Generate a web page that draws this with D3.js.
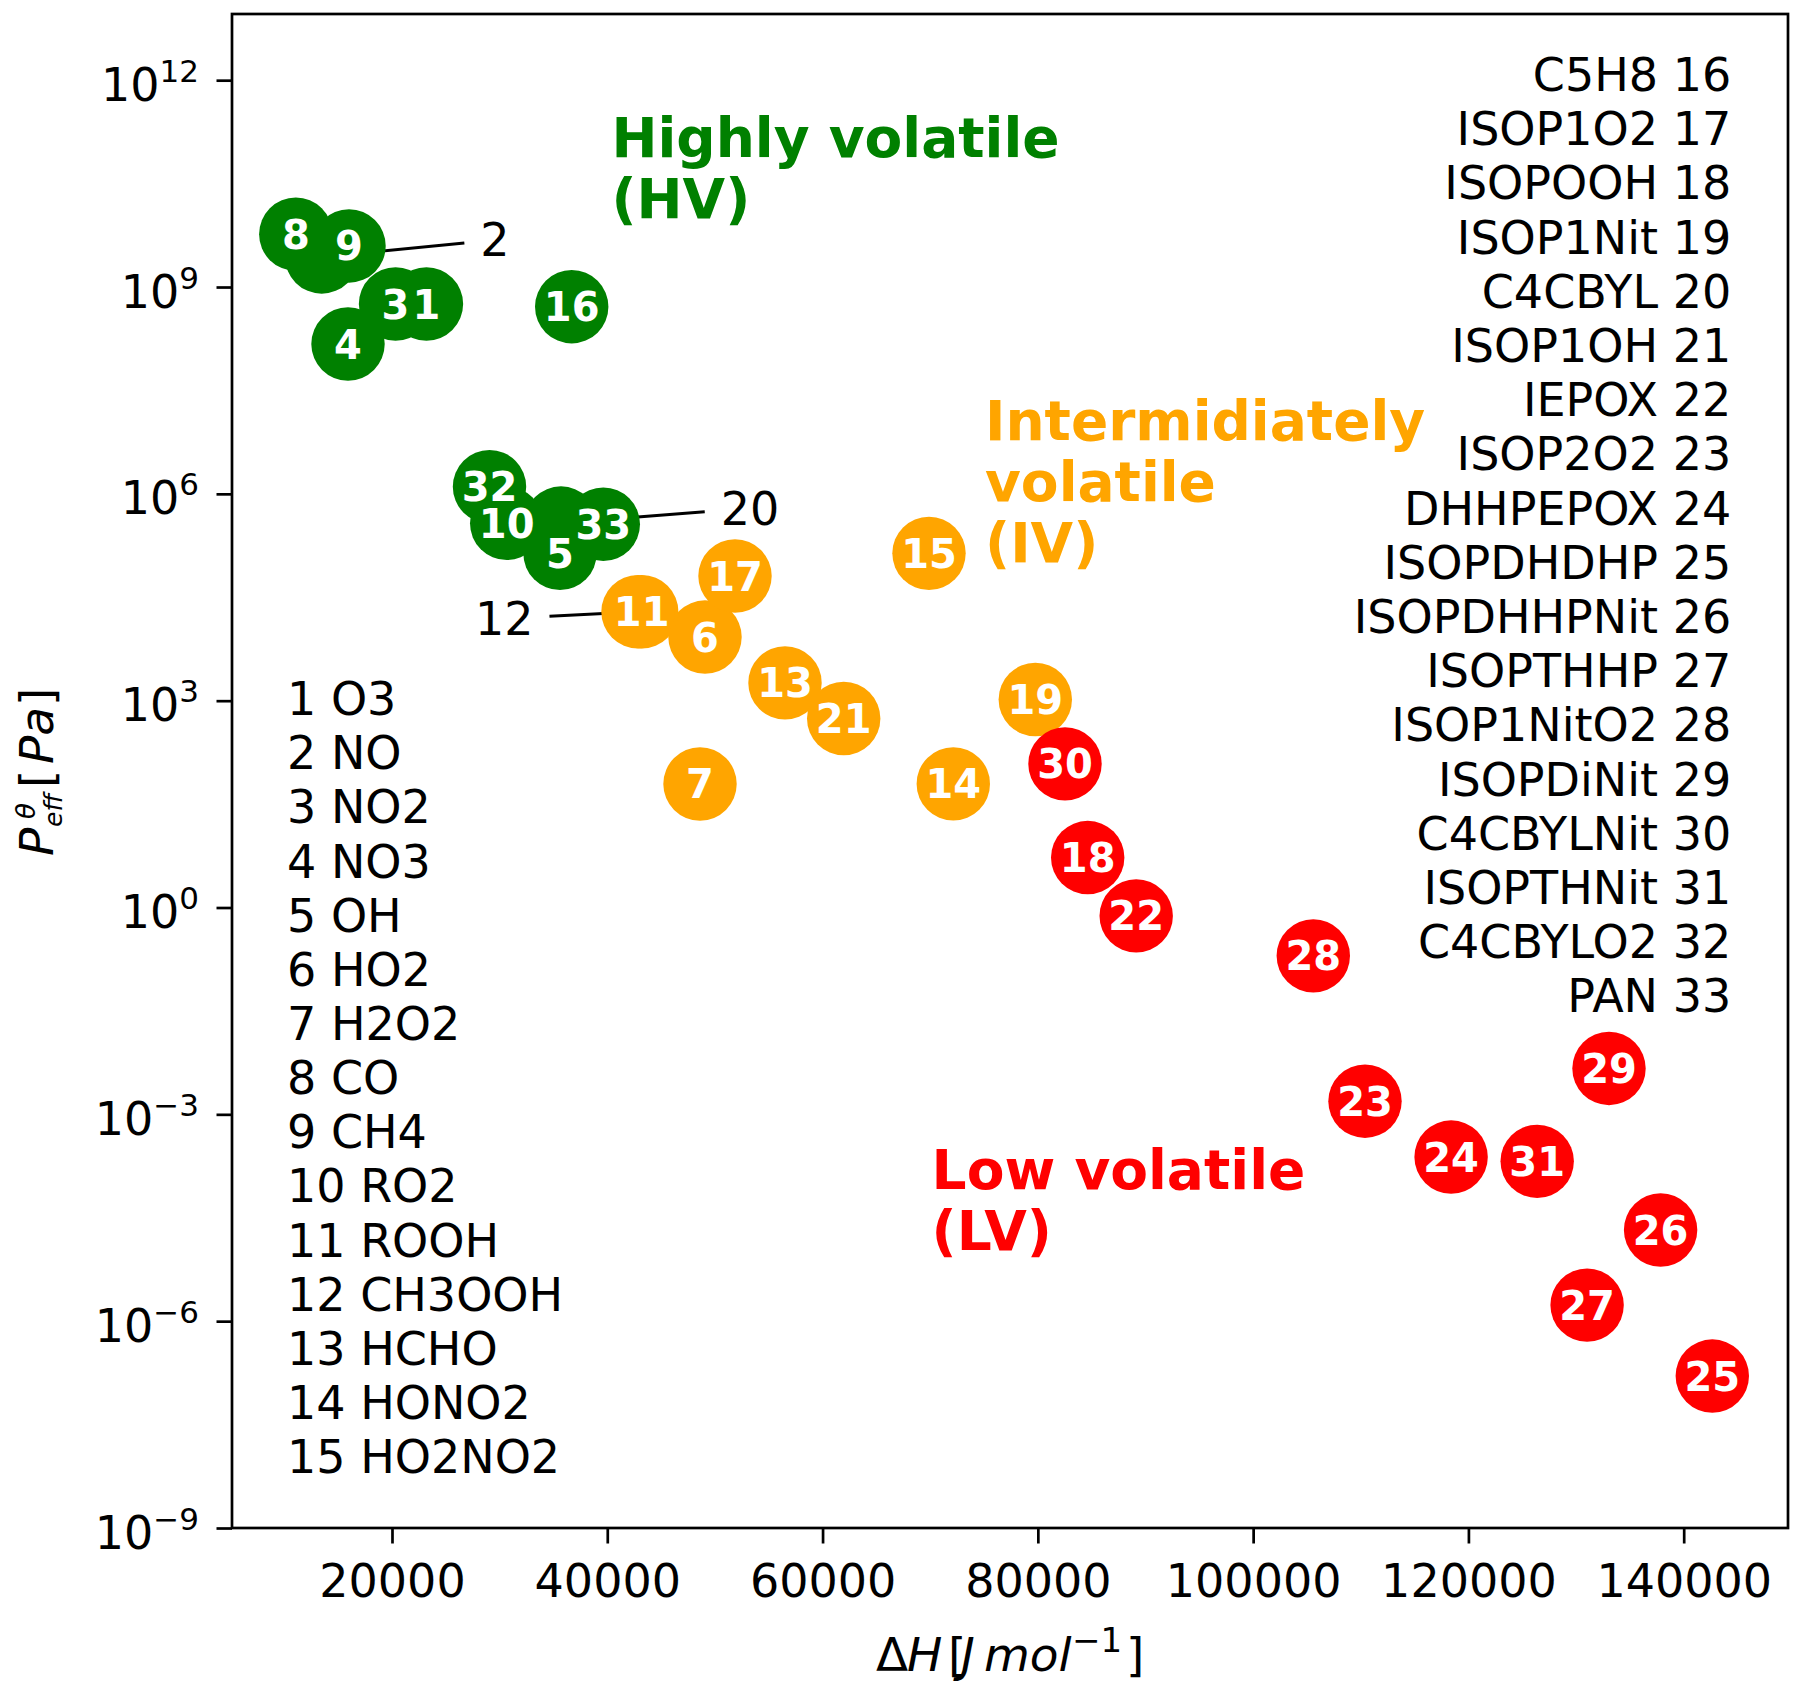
<!DOCTYPE html>
<html>
<head>
<meta charset="utf-8">
<title>Effective vapour pressure vs. enthalpy</title>
<script src="https://d3js.org/d3.v7.min.js"></script>
<style>
  body { margin: 0; background: #fff; }
  svg { display: block; font-family: "DejaVu Sans", sans-serif; }
</style>
</head>
<body>
<svg width="1800" height="1691"></svg>
<script>
  // species numbers, names and values
  const ids = d3.range(1, 34);
  const species = ['O3', 'NO', 'NO2', 'NO3', 'OH', 'HO2', 'H2O2', 'CO', 'CH4', 'RO2',
    'ROOH', 'CH3OOH', 'HCHO', 'HONO2', 'HO2NO2', 'C5H8', 'ISOP1O2', 'ISOPOOH',
    'ISOP1Nit', 'C4CBYL', 'ISOP1OH', 'IEPOX', 'ISOP2O2', 'DHHPEPOX', 'ISOPDHDHP',
    'ISOPDHHPNit', 'ISOPTHHP', 'ISOP1NitO2', 'ISOPDiNit', 'C4CBYLNit', 'ISOPTHNit',
    'C4CBYLO2', 'PAN'];
  const dH = [23200, 13471, 20330, 15914, 35609, 49079, 48615, 11064, 16007, 30657,
    43199, 42855, 56511, 72146, 69889, 36696, 51866, 84632, 79764, 35701,
    61964, 89138, 110393, 118392, 142657, 137854, 131026, 105590, 133061, 82523,
    126390, 29059, 39631];
  const pEff = [5.67e8, 2.73e9, 5.67e8, 1.49e8, 1.37e5, 8.37e3, 61.9, 5.84e9, 3.94e9, 3.73e5,
    1.95e4, 1.95e4, 1.81e3, 62.1, 1.37e5, 5.18e8, 6.43e4, 5.30, 1.04e3, 3.77e5,
    552, 0.755, 1.55e-3, 2.40e-4, 1.60e-7, 2.10e-5, 1.71e-6, 0.199, 4.63e-3, 121,
    2.08e-4, 1.27e6, 3.62e5];
  const volClass = ['HV', 'HV', 'HV', 'HV', 'HV', 'IV', 'IV', 'HV', 'HV', 'HV',
    'IV', 'IV', 'IV', 'IV', 'IV', 'HV', 'IV', 'LV', 'IV', 'HV',
    'IV', 'LV', 'LV', 'LV', 'LV', 'LV', 'LV', 'LV', 'LV', 'LV',
    'LV', 'HV', 'HV'];

  // numbers written beside their point with a pointer line: id, label dH, label P
  const callouts = [[2, 29570, 4.81e9], [12, 30425, 1.56e4], [20, 53260, 6.17e5]];

  const groupKeys = ['HV', 'IV', 'LV'];
  const groupColors = ['#008000', '#FFA500', '#FF0000'];
  const groupLines = [['Highly volatile', '(HV)'], ['Intermidiately', 'volatile', '(IV)'], ['Low volatile', '(LV)']];
  const groupAt = [[40384, 7.69e10], [75091, 6.04e6], [70130, 8.22e-5]];

  const leftListAt = [10247, 618];
  const rightListAt = [144413, 6.98e11];

  const xTicks = [20000, 40000, 60000, 80000, 100000, 120000, 140000];
  const yTicks = [1e-9, 1e-6, 1e-3, 1e0, 1e3, 1e6, 1e9, 1e12];

  const W = 1800, H = 1691;
  const margin = {top: 14, right: 12, bottom: 163, left: 232};
  const svg = d3.select('svg');

  const x = d3.scaleLinear().domain([5137, 149690]).range([margin.left, W - margin.right]);
  const y = d3.scaleLog().domain([1e-9, Math.pow(10, 12.96)]).range([H - margin.bottom, margin.top]);
  const color = d3.scaleOrdinal().domain(groupKeys).range(groupColors);

  // axes
  svg.append('g')
    .attr('transform', `translate(0,${H - margin.bottom})`)
    .call(d3.axisBottom(x).tickValues(xTicks).tickFormat(d3.format('d')).tickSize(15.5).tickPadding(21))
    .call(g => {
      g.attr('font-size', 46).attr('font-family', 'DejaVu Sans');
      g.select('.domain').remove();
      g.selectAll('.tick line').attr('stroke-width', 2.7);
    });

  svg.append('g')
    .attr('transform', `translate(${margin.left},0)`)
    .call(d3.axisLeft(y).tickValues(yTicks).tickFormat('').tickSize(15.5).tickPadding(17.5))
    .call(g => {
      g.attr('font-size', 46).attr('font-family', 'DejaVu Sans');
      g.select('.domain').remove();
      g.selectAll('.tick line').attr('stroke-width', 2.7);
      g.selectAll('.tick text').each(function(d) {
        const t = d3.select(this).attr('dy', 20);
        t.append('tspan').text('10');
        t.append('tspan').attr('font-size', 31).attr('dy', -19)
          .text(String(Math.round(Math.log10(d))).replace('-', '\u2212'));
      });
    });

  svg.append('rect')
    .attr('x', margin.left).attr('y', margin.top)
    .attr('width', W - margin.left - margin.right)
    .attr('height', H - margin.top - margin.bottom)
    .attr('fill', 'none').attr('stroke', '#000').attr('stroke-width', 2.7);

  const lineG = svg.append('g');
  const dotG = svg.append('g');
  const numG = svg.append('g');
  const textG = svg.append('g');

  const pts = ids.map((id, i) => ({id, name: species[i], dH: dH[i], p: pEff[i], cls: volClass[i]}));
  const calloutIds = callouts.map(c => c[0]);

  dotG.selectAll('circle')
    .data(pts)
    .join('circle')
    .attr('cx', d => x(d.dH))
    .attr('cy', d => y(d.p))
    .attr('r', 36.7)
    .attr('fill', d => color(d.cls));

  numG.selectAll('text')
    .data(pts.filter(d => !calloutIds.includes(d.id)))
    .join('text')
    .attr('x', d => x(d.dH))
    .attr('y', d => y(d.p))
    .attr('dy', 14.5)
    .attr('text-anchor', 'middle')
    .attr('font-size', 40)
    .attr('font-weight', 'bold')
    .attr('fill', '#fff')
    .text(d => d.id);

  callouts.forEach(([id, lx, ly]) => {
    const pt = pts[id - 1];
    const px = x(pt.dH), py = y(pt.p);
    const cx = x(lx), cy = y(ly);
    const t = textG.append('text')
      .attr('x', cx).attr('y', cy).attr('dy', 16.5)
      .attr('text-anchor', 'middle')
      .attr('font-size', 46)
      .text(id);
    const hw = t.node().getComputedTextLength() / 2 + 16;
    const k = hw / Math.abs(cx - px);
    lineG.append('line')
      .attr('x1', px).attr('y1', py)
      .attr('x2', cx - (cx - px) * k).attr('y2', cy - (cy - py) * k)
      .attr('stroke', '#000').attr('stroke-width', 3);
  });

  // volatility class names
  groupKeys.forEach((k, i) => {
    const t = textG.append('text')
      .attr('x', x(groupAt[i][0])).attr('y', y(groupAt[i][1]))
      .attr('font-size', 55).attr('font-weight', 'bold')
      .attr('fill', groupColors[i]);
    groupLines[i].forEach((s, j) => {
      t.append('tspan').attr('x', x(groupAt[i][0])).attr('dy', j ? 61 : 0).text(s);
    });
  });

  // species lists
  const left = textG.append('text')
    .attr('x', x(leftListAt[0])).attr('y', y(leftListAt[1]))
    .attr('font-size', 46);
  pts.filter(d => d.id <= 15).forEach((d, j) => {
    left.append('tspan').attr('x', x(leftListAt[0])).attr('dy', j ? 54.15 : 0).text(`${d.id} ${d.name}`);
  });
  const right = textG.append('text')
    .attr('x', x(rightListAt[0])).attr('y', y(rightListAt[1]))
    .attr('font-size', 46).attr('text-anchor', 'end');
  pts.filter(d => d.id > 15).forEach((d, j) => {
    right.append('tspan').attr('x', x(rightListAt[0])).attr('dy', j ? 54.2 : 0).text(`${d.name} ${d.id}`);
  });

  // axis titles (math style pieces)
  function piece(g, s, px, py, opt) {
    g.append('text')
      .attr('x', px).attr('y', py)
      .attr('font-size', opt.size || 47)
      .attr('font-style', opt.italic ? 'oblique' : 'normal')
      .text(s);
  }
  const xMid = (margin.left + W - margin.right) / 2;
  const xl = svg.append('g').attr('transform', `translate(${xMid},1670.7)`);
  piece(xl, '\u0394', -134, 0, {});
  piece(xl, 'H', -103, 0, {italic: true});
  piece(xl, '[', -62, 0, {});
  piece(xl, 'J', -49, 0, {italic: true});
  piece(xl, 'mol', -26, 0, {italic: true});
  piece(xl, '\u22121', 62, -19, {size: 34});
  piece(xl, ']', 116, 0, {});

  const yMid = (margin.top + H - margin.bottom) / 2;
  const yl = svg.append('g').attr('transform', `translate(53.3,${yMid + 84}) rotate(-90)`);
  piece(yl, 'P', -1, 0, {italic: true});
  piece(yl, 'eff', 28, 9, {italic: true, size: 25});
  piece(yl, '\u03b8', 36, -18, {italic: true, size: 26});
  piece(yl, '[', 67, 0, {});
  piece(yl, 'Pa', 91, 0, {italic: true});
  piece(yl, ']', 149, 0, {});
</script>
</body>
</html>
